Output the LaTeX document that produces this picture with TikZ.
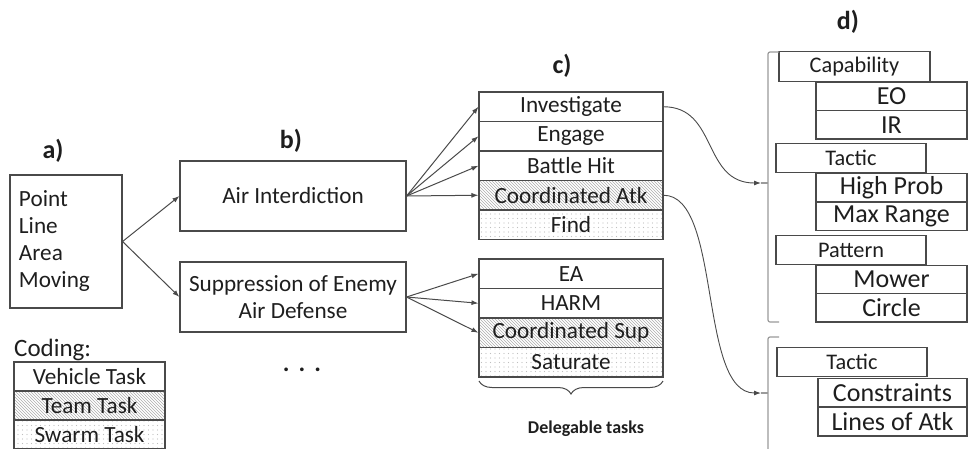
\documentclass[tikz,border=0pt]{standalone}
\usepackage{fontspec}
\setmainfont{Carlito}
\usetikzlibrary{patterns,arrows.meta,decorations.pathreplacing}
\definecolor{boxc}{HTML}{4A4A4A}
\definecolor{txt}{HTML}{1E1E1E}
\definecolor{brk}{HTML}{9A9A9A}
\pgfdeclarepatternformonly{sparsedots}{\pgfqpoint{-1pt}{-1pt}}{\pgfqpoint{1pt}{1pt}}{\pgfqpoint{4.5pt}{4.5pt}}%
  {\pgfpathcircle{\pgfqpoint{0pt}{0pt}}{0.65pt}\pgfusepath{fill}}
\begin{document}
\begin{tikzpicture}[x=1pt,y=-1pt,
  box/.style={draw=boxc, line width=1.1pt, inner sep=0pt, text=txt, align=center,
              font=\fontsize{23.2}{26.5}\selectfont},
  teambox/.style={box, pattern=north west lines, pattern color=gray!65},
  swarmbox/.style={box, pattern=sparsedots, pattern color=gray!50},
  hdr/.style={text=txt, font=\bfseries\fontsize{26}{30}\selectfont, inner sep=0pt},
  conn/.style={draw=boxc, line width=1pt, -{Latex[length=7pt,width=5pt]}},
  crv/.style={draw=boxc, line width=0.9pt, -{Latex[length=7pt,width=5pt]}},
  brkline/.style={draw=brk, line width=1.2pt, rounded corners=2pt},
  cw/.style={minimum width=184, minimum height=29.5},
  dh/.style={box, minimum width=150, minimum height=29.5, font=\fontsize{22.3}{26}\selectfont},
  ds/.style={box, minimum width=151, minimum height=28.5, font=\fontsize{26}{29}\selectfont},
  lg/.style={minimum width=151, minimum height=29}
]
\clip (0,0) rectangle (969,448);
\useasboundingbox (0,0) rectangle (969,448);

% labels
\node[hdr] (la) at (53,151) {a)};
\node[hdr] (lb) at (291,141) {b)};
\node[hdr] (lc) at (562,66) {c)};
\node[hdr] (ld) at (848,22) {d)};

% a)
\node[box, minimum width=112, minimum height=133, align=left, text width=94,
      font=\fontsize{23.2}{27}\selectfont] (A) at (66,241.5) {Point\\Line\\Area\\Moving};

% b)
\node[box, minimum width=226, minimum height=70] (ai) at (293,196) {Air Interdiction};
\node[box, minimum width=226, minimum height=70] (sead) at (293,297) {Suppression of Enemy\\Air Defense};
\node[text=txt, font=\bfseries\fontsize{25}{28}\selectfont, inner sep=0pt, anchor=base] (dots) at (302,371) {.\hspace{9pt}.\hspace{9pt}.};

% c) top stack
\node[box, cw] (inv) at (571,106.75) {Investigate};
\node[box, cw] (eng) at (571,136.25) {Engage};
\node[box, cw] (bh) at (571,165.75) {Battle Hit};
\node[teambox, cw] (ca) at (571,195.25) {Coordinated Atk};
\node[swarmbox, cw] (find) at (571,224.75) {Find};
% c) bottom stack
\node[box, cw] (ea) at (571,273.75) {EA};
\node[box, cw] (harm) at (571,303.25) {HARM};
\node[teambox, cw] (cs) at (571,332.75) {Coordinated Sup};
\node[swarmbox, cw] (sat) at (571,362.25) {Saturate};

\draw[draw=boxc, line width=1pt, decorate, decoration={brace, amplitude=13pt}] (663,381) -- (479,381);
\node[text=txt, font=\bfseries\fontsize{18}{21}\selectfont, inner sep=0pt] (deleg) at (586,429) {Delegable tasks};

% arrows a -> b
\draw[conn] (A.east) -- (ai.west);
\draw[conn] (A.east) -- (sead.west);
% arrows b -> c
\draw[conn] (ai.east) -- (inv.west);
\draw[conn] (ai.east) -- (eng.west);
\draw[conn] (ai.east) -- (bh.west);
\draw[conn] (ai.east) -- (ca.west);
\draw[conn] (sead.east) -- (ea.west);
\draw[conn] (sead.east) -- (harm.west);
\draw[conn] (sead.east) -- (cs.west);

% coding
\node[text=txt, font=\fontsize{25}{28}\selectfont, inner sep=0pt, anchor=west] (coding) at (14,350) {Coding:};
\node[box, lg] (veh) at (89.5,376.5) {Vehicle Task};
\node[teambox, lg] (team) at (89.5,405.5) {Team Task};
\node[swarmbox, lg] (swarm) at (89.5,434.5) {Swarm Task};

% d) group 1
\node[dh, minimum width=151] (cap) at (854.5,66.5) {Capability};
\node[ds] (eo) at (891.5,96.25) {EO};
\node[ds] (ir) at (891.5,124.75) {IR};
\node[dh] (tac) at (851,158) {Tactic};
\node[ds] (hp) at (891.5,187.75) {High Prob};
\node[ds] (mr) at (891.5,216.5) {Max Range};
\node[dh] (pat) at (851,250) {Pattern};
\node[ds] (mow) at (891.5,279.5) {Mower};
\node[ds] (circ) at (891.5,307.75) {Circle};
% d) group 2
\node[dh] (tac2) at (852,362) {Tactic};
\node[ds, minimum width=149] (con) at (892.5,392.5) {Constraints};
\node[ds, minimum width=149] (loa) at (892.5,421.75) {Lines of Atk};

% brackets
\coordinate (t1) at (761,183);
\coordinate (b1) at (768,183);
\coordinate (t2) at (761,393);
\coordinate (b2) at (768,393);
\draw[brkline] (779,52) -- (768,52) -- (768,322) -- (779,322);
\draw[draw=brk, line width=1.2pt] (t1) -- (b1);
\draw[brkline] (779,337) -- (768,337) -- (768,470);
\draw[draw=brk, line width=1.2pt] (t2) -- (b2);

% curves
\draw[crv] (inv.east) .. controls (718,106.75) and (702,183) .. (t1);
\draw[crv] (ca.east) .. controls (722,195.25) and (698,393) .. (t2);
\end{tikzpicture}
\end{document}
